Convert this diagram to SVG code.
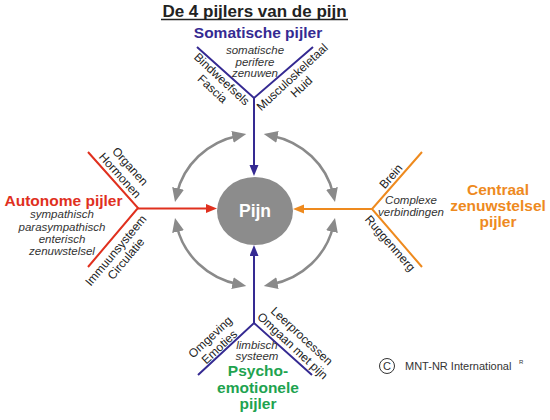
<svg xmlns="http://www.w3.org/2000/svg" width="550" height="420" viewBox="0 0 550 420">
<style>
.t{font-family:"Liberation Sans",Arial,sans-serif}
.title{font-size:17px;font-weight:bold;fill:#222}
.head{font-size:15.5px;font-weight:bold;text-anchor:middle}
.lab{font-size:12px;fill:#222;text-anchor:middle}
.it{font-size:11.5px;font-style:italic;fill:#333;text-anchor:middle}
.blue{stroke:#352a92;stroke-width:2;fill:none}
.red{stroke:#e0301e;stroke-width:2;fill:none}
.org{stroke:#ee8a1e;stroke-width:2;fill:none}
.gray{stroke:#8a8a8a;stroke-width:2.5;fill:none}
</style>
<defs>
<marker id="mb" markerUnits="userSpaceOnUse" markerWidth="12" markerHeight="10" refX="5" refY="4.5" orient="auto"><path d="M0,0 L11,4.5 L0,9 z" fill="#352a92"/></marker>
<marker id="mr" markerUnits="userSpaceOnUse" markerWidth="12" markerHeight="10" refX="5" refY="4.5" orient="auto"><path d="M0,0 L11,4.5 L0,9 z" fill="#e0301e"/></marker>
<marker id="mo" markerUnits="userSpaceOnUse" markerWidth="12" markerHeight="10" refX="5" refY="4.5" orient="auto"><path d="M0,0 L11,4.5 L0,9 z" fill="#ee8a1e"/></marker>
<marker id="mg" markerUnits="userSpaceOnUse" markerWidth="15" markerHeight="13" refX="6" refY="6" orient="auto-start-reverse"><path d="M0,0 L14,6 L0,12 z" fill="#8a8a8a"/></marker>
</defs>
<rect width="550" height="420" fill="#fff"/>

<g id="title">
<text class="t title" x="254.5" y="17" text-anchor="middle">De 4 pijlers van de pijn</text>
<line x1="161" y1="19.5" x2="348" y2="19.5" stroke="#222" stroke-width="1.5"/>
</g>

<g id="connectors">
<path class="blue" d="M197,47 L254,98 L313,47"/>
<line class="blue" x1="254" y1="98" x2="254" y2="170" marker-end="url(#mb)"/>
<path class="blue" d="M198,375 L254,323 L312,375"/>
<line class="blue" x1="254" y1="323" x2="254" y2="251" marker-end="url(#mb)"/>
<path class="red" d="M88,152 L138,208 L88,267"/>
<line class="red" x1="138" y1="208.5" x2="211" y2="208.5" marker-end="url(#mr)"/>
<path class="org" d="M422,152 L372,209 L422,267"/>
<line class="org" x1="372" y1="209" x2="299" y2="209" marker-end="url(#mo)"/>
<path class="gray" d="M176.75,194.2 A80,76 0 0 1 238.4,135.7" marker-start="url(#mg)" marker-end="url(#mg)"/>
<path class="gray" d="M271.6,135.7 A80,76 0 0 1 333.25,194.2" marker-start="url(#mg)" marker-end="url(#mg)"/>
<path class="gray" d="M333.25,225.8 A80,76 0 0 1 271.6,284.3" marker-start="url(#mg)" marker-end="url(#mg)"/>
<path class="gray" d="M238.4,284.3 A80,76 0 0 1 176.75,225.8" marker-start="url(#mg)" marker-end="url(#mg)"/>
</g>

<g id="pijn">
<ellipse cx="255" cy="211" rx="38" ry="34" fill="#8c8c8c"/>
<text class="t" x="255" y="217" text-anchor="middle" font-size="17.5" font-weight="bold" fill="#fff">Pijn</text>
</g>

<g id="somatisch">
<text class="t head" x="258" y="38" fill="#352a92">Somatische pijler</text>
<text class="t it" x="255" y="54">somatische</text>
<text class="t it" x="255" y="65.5">perifere</text>
<text class="t it" x="255" y="77">zenuwen</text>
<g transform="translate(219,82) rotate(43)"><text class="t lab" x="0" y="0">Bindweefsels</text><text class="t lab" x="0" y="13.5">Fascia</text></g>
<g transform="translate(295,80) rotate(-43)"><text class="t lab" x="0" y="0">Musculoskeletaal</text><text class="t lab" x="0" y="13.5">Huid</text></g>
</g>

<g id="autonoom">
<text class="t head" x="63.5" y="206" fill="#e0301e">Autonome pijler</text>
<text class="t it" x="62" y="218">sympathisch</text>
<text class="t it" x="62" y="230.5">parasympathisch</text>
<text class="t it" x="62" y="243">enterisch</text>
<text class="t it" x="62" y="255">zenuwstelsel</text>
<g transform="translate(127,169) rotate(48)"><text class="t lab" x="0" y="0">Organen</text><text class="t lab" x="0" y="13.5">Hormonen</text></g>
<g transform="translate(119,253) rotate(-50)"><text class="t lab" x="0" y="0">Immuunsysteem</text><text class="t lab" x="0" y="13">Circulatie</text></g>
</g>

<g id="centraal">
<text class="t head" x="498" y="195" fill="#ee8a1e">Centraal</text>
<text class="t head" x="498" y="211" fill="#ee8a1e">zenuwstelsel</text>
<text class="t head" x="498" y="227" fill="#ee8a1e">pijler</text>
<text class="t it" x="411" y="204">Complexe</text>
<text class="t it" x="411" y="216">verbindingen</text>
<g transform="translate(394,179) rotate(-49)"><text class="t lab" x="0" y="0">Brein</text></g>
<g transform="translate(387,246) rotate(49)"><text class="t lab" x="0" y="0">Ruggenmerg</text></g>
</g>

<g id="psycho">
<text class="t head" x="258" y="376" fill="#1ea34f" font-size="16">Psycho-</text>
<text class="t head" x="258" y="393" fill="#1ea34f" font-size="16">emotionele</text>
<text class="t head" x="258" y="409" fill="#1ea34f" font-size="16">pijler</text>
<text class="t it" x="257" y="348.5">limbisch</text>
<text class="t it" x="257" y="360">systeem</text>
<g transform="translate(213,340) rotate(-43)"><text class="t lab" x="0" y="0">Omgeving</text><text class="t lab" x="0" y="13.5">Emoties</text></g>
<g transform="translate(299,339) rotate(43)"><text class="t lab" x="0" y="0">Leerprocessen</text><text class="t lab" x="0" y="13.5">Omgaan met pijn</text></g>
</g>

<g id="copyright">
<circle cx="387" cy="366" r="7.5" fill="none" stroke="#333" stroke-width="1"/>
<text class="t" x="387" y="370" text-anchor="middle" font-size="11" fill="#333">C</text>
<text class="t" x="405" y="370" font-size="11" fill="#333">MNT-NR International</text>
<text class="t" x="519" y="364" font-size="6" fill="#333">R</text>
</g>
</svg>
